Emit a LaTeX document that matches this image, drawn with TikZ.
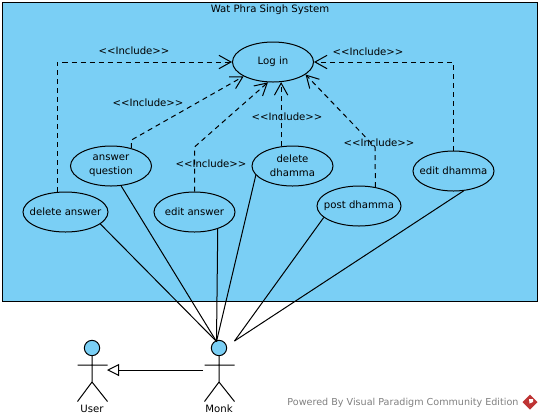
\documentclass[tikz,border=0pt]{standalone}
\usepackage{fontspec}
\setmainfont{DejaVu Sans}
\usetikzlibrary{shapes.geometric,arrows.meta}

\definecolor{sysblue}{RGB}{122,207,245}
\definecolor{logored}{RGB}{190,52,52}
\newcommand{\incl}{<{}<Include>{}>}

\tikzset{every picture/.style={line width=0.75pt}}
\tikzset{
    usecase/.style={ellipse,draw,fill=sysblue,inner xsep=-12pt,inner ysep=-6pt,minimum width=60.75pt,minimum height=30pt,align=center,font=\fontsize{7.6}{10.5}\selectfont},
    include/.style={draw,dash pattern={on 3.75pt off 3pt},-{Straight Barb[length=9pt,width=10pt]}},
    inclabel/.style={inner sep=0pt,font=\fontsize{7.6}{10}\selectfont},
    actorhead/.style={circle,draw,fill=sysblue,inner sep=0pt,minimum size=11.5pt},
    actorname/.style={inner sep=0pt,font=\fontsize{7.6}{10}\selectfont}
}

\begin{document}
\begin{tikzpicture}[x=0.75pt,y=0.75pt,yscale=-1,xscale=1]
    \useasboundingbox (0,0) rectangle (542,419);
    % System
    \draw [fill=sysblue]  (2.5,2.5) -- (537.5,2.5) -- (537.5,301.5) -- (2.5,301.5) -- cycle  ;
    \node (title) [inclabel] at (270,10) {Wat Phra Singh System};
    % Use cases
    \node (login) [usecase] at (273,62) {Log in};
    \node (answerq) [usecase] at (111,166) {answer\\question};
    \node (delanswer) [usecase,minimum width=63.75pt] at (65.5,212) {delete answer};
    \node (editanswer) [usecase] at (194.5,212) {edit answer};
    \node (deldhamma) [usecase] at (292.5,166) {delete\\dhamma};
    \node (postdhamma) [usecase,minimum width=63pt] at (359,206) {post dhamma};
    \node (editdhamma) [usecase] at (453.5,171) {edit dhamma};
    % Actors
    \node (userhead) [actorhead] at (92,348) {};
    \node (monkhead) [actorhead] at (219,348) {};
    \draw (userhead.south) -- (92,382) -- (77.5,401.5) (92,382) -- (107.5,401.5) (77.5,365) -- (107.5,365);
    \draw (monkhead.south) -- (219,382) -- (204.5,401.5) (219,382) -- (234.5,401.5) (204.5,365) -- (234.5,365);
    \node (username) [actorname] at (92,409) {User};
    \node (monkname) [actorname] at (219,409) {Monk};
    \coordinate (monkleft) at (216.5,341.5);
    \coordinate (monkright) at (234.5,341);
    \coordinate (monkgen) at (203,370);
    \coordinate (usergen) at (107,370);
    % Connection
    \draw (delanswer.-19) -- (monkleft);
    \draw (answerq.-63) -- (monkleft);
    \draw (editanswer.-36) -- (monkleft);
    \draw (deldhamma.-166) -- (monkleft);
    \draw (postdhamma.198) -- (monkright);
    \draw (editdhamma.-63) -- (monkright);
    \draw [-{Triangle[open,length=9pt,width=9pt]}] (monkgen) -- (usergen);
    % Include
    \draw [include] (delanswer.112) |- (login.west);
    \coordinate (answerbend) at (131.5,140);
    \draw [include] (answerq.41) -- (answerbend) -- (login.206);
    \coordinate (editbend) at (194.5,147);
    \draw [include] (editanswer.north) -- (editbend) -- (login.256);
    \draw [include] (login.-68 |- deldhamma.120) -- (login.-68);
    \coordinate (postbend) at (375,147);
    \draw [include] (postdhamma.49) -- (postbend) -- (login.-21);
    \draw [include] (editdhamma.north) |- (login.east);
    % Labels
    \node (incla) [inclabel] at (134,51) {\incl};
    \node (inclb) [inclabel] at (148,103) {\incl};
    \node (inclc) [inclabel] at (211,164) {\incl};
    \node (incld) [inclabel] at (287,117) {\incl};
    \node (incle) [inclabel] at (379,143) {\incl};
    \node (inclf) [inclabel] at (368,52) {\incl};
    % Footer
    \node (powered) [inclabel,anchor=east,text=black!50,font=\fontsize{7.2}{10}\selectfont] at (519,402.5) {Powered By Visual Paradigm Community Edition};
    \fill [logored] (530,394.5) -- (537.5,402) -- (530,409.5) -- (522.5,402) -- cycle;
    \fill [white] (529,399) -- (533,399) -- (533,402) -- (529.5,403.5) -- cycle;
\end{tikzpicture}
\end{document}
